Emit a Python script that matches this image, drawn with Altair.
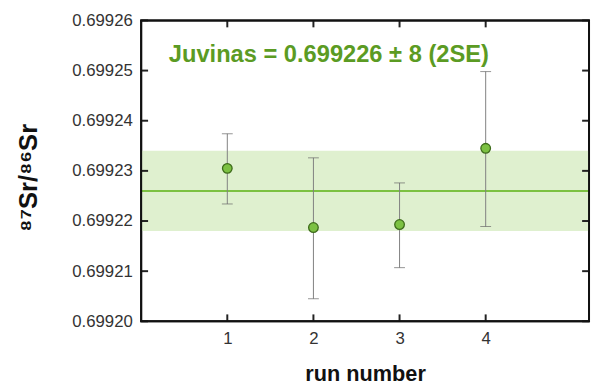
import altair as alt
import pandas as pd

runs = [1, 2, 3, 4]
ratio = [0.6992305, 0.6992187, 0.6992193, 0.6992345]
err_low = [0.6992234, 0.6992045, 0.6992107, 0.6992189]
err_high = [0.6992374, 0.6992326, 0.6992276, 0.6992498]
mean_value = 0.699226
two_se = 0.000008
y_ticks = [0.69920, 0.69921, 0.69922, 0.69923, 0.69924, 0.69925, 0.69926]
x_ticks = [1, 2, 3, 4]
label_text = "Juvinas = 0.699226 ± 8 (2SE)"

W, H = 454, 305
FONT = "Liberation Sans"
GREEN = "#7cc142"

df = pd.DataFrame({"run": runs, "ratio": ratio, "lo": err_low, "hi": err_high})
mean_df = pd.DataFrame({"m": [mean_value], "lo": [mean_value - two_se], "hi": [mean_value + two_se]})
yt = pd.DataFrame({"v": y_ticks})
xt = pd.DataFrame({"v": x_ticks})
txt = pd.DataFrame({"t": [label_text]})
y_edges = pd.DataFrame({"v": [0.69920, 0.69926]})
x_edges = pd.DataFrame({"v": [0, 5.2]})

xs = alt.Scale(domain=[0, 5.2], nice=False, zero=False)
ys = alt.Scale(domain=[0.69920, 0.69926], nice=False, zero=False)

x_axis = alt.Axis(values=x_ticks, format="d", title="run number", grid=False, domain=False,
                  ticks=False, labelFont=FONT, labelFontSize=17, labelColor="#333",
                  labelPadding=10, titleFont=FONT, titleFontSize=22, titleFontWeight="bold",
                  titleColor="#111", titleY=60, titleBaseline="alphabetic")
y_axis = alt.Axis(values=y_ticks, format=".5f", title="⁸⁷Sr/⁸⁶Sr", grid=False, domain=False,
                  ticks=False, labelFont=FONT, labelFontSize=17, labelColor="#333",
                  labelPadding=9, titleFont=FONT, titleFontSize=26, titleFontWeight="bold",
                  titleColor="#111", titleX=-101, titleY=159, titleBaseline="bottom")

band = alt.Chart(mean_df).mark_rect(color="#dff0cf").encode(
    y=alt.Y("lo:Q", scale=ys, axis=y_axis), y2="hi:Q")
mline = alt.Chart(mean_df).mark_rule(color=GREEN, strokeWidth=2).encode(
    y=alt.Y("m:Q", scale=ys))
ebar = alt.Chart(df).mark_rule(color="#808080", strokeWidth=1).encode(
    x=alt.X("run:Q", scale=xs, axis=x_axis), y=alt.Y("lo:Q", scale=ys), y2="hi:Q")
cap_lo = alt.Chart(df).mark_tick(color="#666", orient="horizontal", size=11, thickness=1).encode(
    x=alt.X("run:Q", scale=xs), y=alt.Y("lo:Q", scale=ys))
cap_hi = alt.Chart(df).mark_tick(color="#666", orient="horizontal", size=11, thickness=1).encode(
    x=alt.X("run:Q", scale=xs), y=alt.Y("hi:Q", scale=ys))
pts = alt.Chart(df).mark_point(filled=True, fill=GREEN, stroke="#3d6b1a", strokeWidth=1.3,
                               size=95, opacity=1, shape="circle").encode(
    x=alt.X("run:Q", scale=xs), y=alt.Y("ratio:Q", scale=ys))

ytick_l = alt.Chart(yt).mark_rule(color="#222", strokeWidth=2).encode(
    y=alt.Y("v:Q", scale=ys), x=alt.value(0), x2=alt.value(7))
ytick_r = alt.Chart(yt).mark_rule(color="#222", strokeWidth=2).encode(
    y=alt.Y("v:Q", scale=ys), x=alt.value(W - 7), x2=alt.value(W))
xtick_t = alt.Chart(xt).mark_rule(color="#222", strokeWidth=2).encode(
    x=alt.X("v:Q", scale=xs), y=alt.value(0), y2=alt.value(7))
xtick_b = alt.Chart(xt).mark_rule(color="#222", strokeWidth=2).encode(
    x=alt.X("v:Q", scale=xs), y=alt.value(H - 7), y2=alt.value(H))

# frame: horizontal edges at the y-domain ends, vertical edges at the x-domain ends
f_h = alt.Chart(y_edges).mark_rule(color="#111", strokeWidth=2).encode(
    y=alt.Y("v:Q", scale=ys), x=alt.value(-1), x2=alt.value(W + 1))
f_v = alt.Chart(x_edges).mark_rule(color="#111", strokeWidth=2).encode(
    x=alt.X("v:Q", scale=xs), y=alt.value(0), y2=alt.value(H))

label = alt.Chart(txt).mark_text(align="left", baseline="middle", font=FONT, fontSize=24,
                                 fontWeight="bold", color="#5b9b23").encode(
    x=alt.value(28), y=alt.value(35), text="t:N")

chart = alt.layer(band, mline, ebar, cap_lo, cap_hi, pts, ytick_l, ytick_r, xtick_t, xtick_b,
                  f_h, f_v, label).properties(
    width=W, height=H,
    background="white",
    autosize=alt.AutoSizeParams(type="none"),
    padding={"left": 135, "top": 10, "right": 2, "bottom": 65},
).configure_view(stroke="#111", strokeWidth=2)

chart.save("out.html", embed_options={"renderer": "svg", "actions": False})
